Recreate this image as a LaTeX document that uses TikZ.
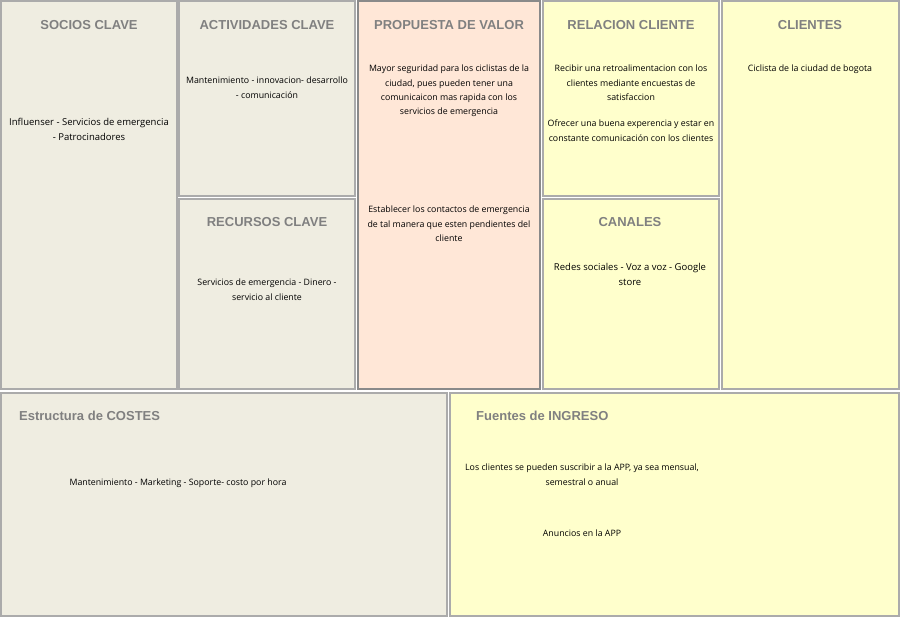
\documentclass[tikz,border=0pt]{standalone}
\usepackage{fontspec}
\setmainfont{Open Sans}
\newfontfamily\titlefont{Liberation Sans}
\usetikzlibrary{positioning}

\definecolor{beige}{HTML}{EFEDE1}
\definecolor{peach}{HTML}{FFE7D7}
\definecolor{paleyellow}{HTML}{FFFFCC}
\definecolor{boxline}{HTML}{ABABAB}
\definecolor{darkline}{HTML}{8A8A8A}
\definecolor{titlegray}{HTML}{808080}

\tikzset{
  block/.style={draw=boxline, line width=1.5pt},
  heading/.style={font=\titlefont\bfseries\fontsize{13}{13}\selectfont, text=titlegray, inner sep=0pt},
  body/.style={font=\fontsize{8.8}{14.3}\selectfont, align=center, inner sep=0pt, anchor=north}
}

\begin{document}
\begin{tikzpicture}[x=1pt, y=-1pt]

    \useasboundingbox (0,0) rectangle (900,618);
    \fill[white] (0,0) rectangle (900,618);

    % top row
    \draw[block, fill=beige] (1,1) rectangle (177,389);
    \draw[block, fill=beige] (179,1) rectangle (355,196);
    \draw[block, fill=beige] (179,199) rectangle (355,389);
    \draw[block, fill=peach, draw=darkline] (358,1) rectangle (540,389);
    \draw[block, fill=paleyellow] (543,1) rectangle (719,196);
    \draw[block, fill=paleyellow] (543,199) rectangle (719,389);
    \draw[block, fill=paleyellow] (722,1) rectangle (899,389);

    % bottom row
    \draw[block, fill=beige] (1,393) rectangle (447,616);
    \draw[block, fill=paleyellow] (450,393) rectangle (899,616);

    % headings
    \node[heading] (socios) at (89,25) {SOCIOS CLAVE};
    \node[heading] (actividades) at (267,25) {ACTIVIDADES CLAVE};
    \node[heading] (recursos) at (267,222) {RECURSOS CLAVE};
    \node[heading] (propuesta) at (449,25) {PROPUESTA DE VALOR};
    \node[heading] (relacion) at (631,25) {RELACION CLIENTE};
    \node[heading] (canales) at (630,222) {CANALES};
    \node[heading] (clientes) at (810,25) {CLIENTES};
    \node[heading, anchor=west] (costes) at (19,416) {Estructura de COSTES};
    \node[heading, anchor=west] (ingreso) at (476,416) {Fuentes de INGRESO};

    % contents
    \node[body, font=\fontsize{9.5}{15}\selectfont] (sociostxt) at (89,118) {Influenser - Servicios de emergencia\\- Patrocinadores};
    \node[body] (actividadestxt) at (267,77) {Mantenimiento - innovacion- desarrollo\\- comunicación};
    \node[body] (recursostxt) at (267,279) {Servicios de emergencia - Dinero -\\servicio al cliente};
    \node[body] (propuestatxt) at (449,65) {Mayor seguridad para los ciclistas de la\\ciudad, pues pueden tener una\\comunicaicon mas rapida con los\\servicios de emergencia};
    \node[body] (contactostxt) at (449,206) {Establecer los contactos de emergencia\\de tal manera que esten pendientes del\\cliente};
    \node[body] (relaciontxt) at (631,65) {Recibir una retroalimentacion con los\\clientes mediante encuestas de\\satisfaccion};
    \node[body] (experienciatxt) at (631,120) {Ofrecer una buena experencia y estar en\\constante comunicación con los clientes};
    \node[body, font=\fontsize{9.5}{15}\selectfont] (canalestxt) at (630,263) {Redes sociales - Voz a voz - Google\\store};
    \node[body] (clientestxt) at (810,65) {Ciclista de la ciudad de bogota};
    \node[body] (costestxt) at (178,479) {Mantenimiento - Marketing - Soporte- costo por hora};
    \node[body] (ingresotxt) at (582,464) {Los clientes se pueden suscribir a la APP, ya sea mensual,\\semestral o anual};
    \node[body] (anunciostxt) at (582,530) {Anuncios en la APP};

\end{tikzpicture}
\end{document}
